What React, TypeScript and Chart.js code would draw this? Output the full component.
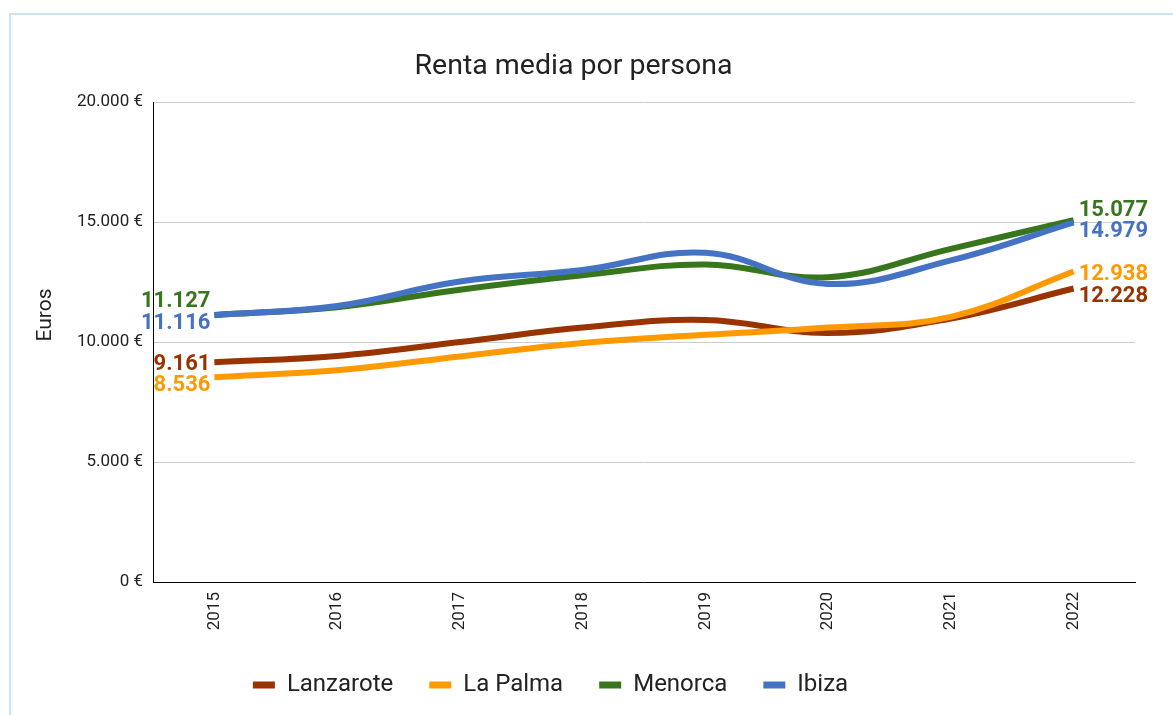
import { useEffect, useRef } from 'react';
import { Chart, registerables } from 'chart.js';

Chart.register(...registerables);

const years = ['2015', '2016', '2017', '2018', '2019', '2020', '2021', '2022'];
const lanzarote = [9161, 9420, 10000, 10600, 10920, 10380, 10980, 12228];
const laPalma = [8536, 8820, 9400, 9960, 10300, 10600, 11050, 12938];
const menorca = [11127, 11450, 12180, 12780, 13230, 12700, 13880, 15077];
const ibiza = [11116, 11500, 12520, 13000, 13720, 12420, 13400, 14979];
const seriesNames = ['Lanzarote', 'La Palma', 'Menorca', 'Ibiza'];
const seriesColors = ['#993300', '#ff9900', '#38761d', '#4472c4'];
const yTickValues = [0, 5000, 10000, 15000, 20000];
const chartTitle = 'Renta media por persona';
const yAxisTitle = 'Euros';

function fmt(n: number): string {
  return String(Math.round(n)).replace(/\B(?=(\d{3})+(?!\d))/g, '.');
}

export default function App() {
  const ref = useRef<HTMLCanvasElement>(null);

  useEffect(() => {
    if (!ref.current) return;
    const values = [lanzarote, laPalma, menorca, ibiza];
    // vertical label nudges (px) so that neighbouring labels do not collide
    const startNudge = [2, 8, -13, 8];
    const endNudge = [8, 3, -10, 9];

    const endLabels = {
      id: 'endLabels',
      afterDatasetsDraw(chart: any) {
        const ctx = chart.ctx;
        ctx.save();
        ctx.font = 'bold 22px Roboto';
        ctx.textBaseline = 'middle';
        chart.data.datasets.forEach((ds: any, i: number) => {
          const meta = chart.getDatasetMeta(i);
          const pts = meta.data;
          const first = pts[0];
          const last = pts[pts.length - 1];
          ctx.fillStyle = ds.borderColor;
          ctx.textAlign = 'right';
          ctx.fillText(fmt(ds.data[0]), first.x - 4, first.y + startNudge[i]);
          ctx.textAlign = 'left';
          ctx.fillText(fmt(ds.data[ds.data.length - 1]), last.x + 5, last.y + endNudge[i]);
        });
        ctx.restore();
      },
    };

    const axisTitle = {
      id: 'axisTitle',
      afterDraw(chart: any) {
        const ctx = chart.ctx;
        ctx.save();
        ctx.translate(46, 315);
        ctx.rotate(-Math.PI / 2);
        ctx.font = '21px Roboto';
        ctx.fillStyle = '#222';
        ctx.textAlign = 'center';
        ctx.textBaseline = 'middle';
        ctx.fillText(yAxisTitle, 0, 0);
        ctx.restore();
      },
    };

    const blockShift = {
      id: 'blockShift',
      afterLayout(chart: any) {
        const lg = chart.legend;
        if (lg) {
          lg.left -= 17;
          lg.right -= 17;
        }
        const tb = chart.titleBlock;
        if (tb) {
          tb.left += 6;
          tb.right += 6;
        }
      },
    };

    const chart = new Chart(ref.current, {
      type: 'line',
      data: {
        labels: years,
        datasets: values.map((d, i) => ({
          label: seriesNames[i],
          data: d,
          borderColor: seriesColors[i],
          backgroundColor: seriesColors[i],
          borderWidth: 6,
          pointRadius: 0,
          pointHoverRadius: 0,
          tension: 0.4,
          fill: false,
          order: 4 - i,
        })),
      },
      options: {
        responsive: false,
        animation: false,
        layout: { padding: { left: 0, right: 38, top: 0, bottom: 8 } },
        plugins: {
          title: {
            display: true,
            text: chartTitle,
            color: '#222',
            font: { family: 'Roboto', size: 28.5, weight: 'normal' },
            padding: { top: 49.5, bottom: 18.3 },
          },
          legend: {
            position: 'bottom',
            labels: {
              boxWidth: 22,
              boxHeight: 7,
              padding: 36,
              color: '#222',
              font: { family: 'Roboto', size: 24 },
              sort: (a: any, b: any) => a.datasetIndex - b.datasetIndex,
              generateLabels: (c: any) =>
                Chart.defaults.plugins.legend.labels
                  .generateLabels(c)
                  .map((l: any) => ({ ...l, lineWidth: 0 })),
            },
          },
          tooltip: { enabled: false },
        },
        scales: {
          x: {
            offset: true,
            grid: { display: false, drawTicks: false },
            border: { display: true, color: '#000', width: 1 },
            ticks: {
              minRotation: 90,
              maxRotation: 90,
              padding: 10,
              color: '#222',
              font: { family: 'Roboto', size: 17 },
            },
            afterFit: (s: any) => {
              s.height = 55;
            },
          },
          y: {
            min: 0,
            max: 20000,
            afterBuildTicks: (s: any) => {
              s.ticks = yTickValues.map((v) => ({ value: v }));
            },
            grid: { color: '#cccccc', drawTicks: false },
            border: { display: true, color: '#000', width: 1 },
            ticks: {
              padding: 10,
              color: '#222',
              font: { family: 'Roboto', size: 17 },
              callback: (v: any) => fmt(Number(v)) + ' €',
            },
            afterFit: (s: any) => {
              s.width = 153;
            },
          },
        },
      },
      plugins: [endLabels, axisTitle, blockShift],
    });
    return () => chart.destroy();
  }, []);

  return (
    <div style={{ position: 'absolute', left: 0, top: 0, width: 1173, height: 715, background: '#fff', overflow: 'hidden' }}>
      <div
        style={{
          position: 'absolute',
          left: 9,
          top: 13,
          right: -10,
          bottom: -10,
          borderTop: '2px solid #cfe2f3',
          borderLeft: '2px solid #cfe2f3',
        }}
      />
      <canvas ref={ref} width={1173} height={715} style={{ position: 'absolute', left: 0, top: 0 }} />
    </div>
  );
}
